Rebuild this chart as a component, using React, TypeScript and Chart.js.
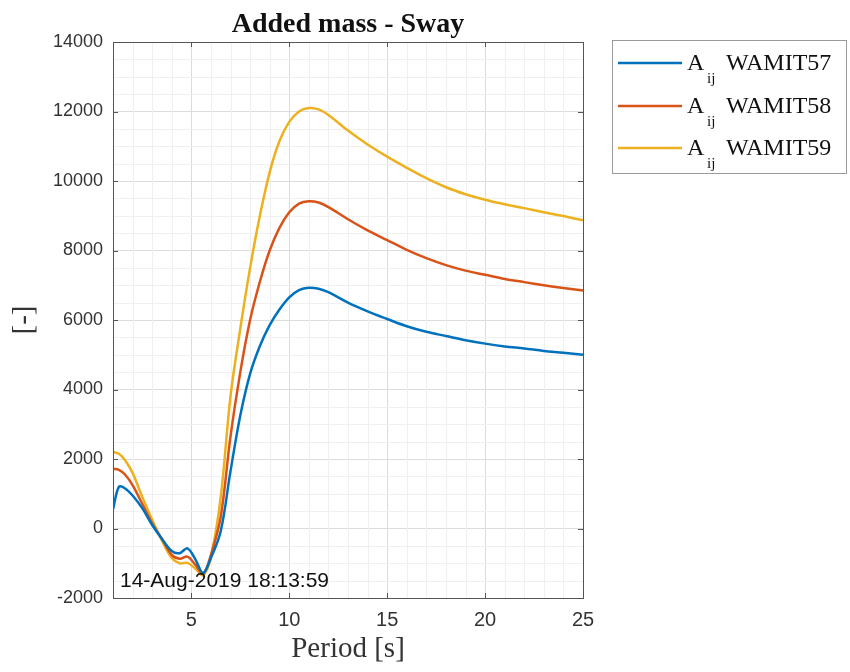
import React, { useEffect, useRef } from "react";
import { Chart, registerables } from "chart.js";

Chart.register(...registerables);

const TITLE = "Added mass - Sway";
const X_LABEL = "Period [s]";
const Y_LABEL = "[-]";
const STAMP = "14-Aug-2019 18:13:59";

const PERIODS = [1, 1.3, 1.6, 2, 2.5, 3, 3.5, 4, 4.4, 4.8, 5.2, 5.6, 6, 6.5, 7, 7.5, 8, 8.5, 9, 9.5, 10, 10.5, 11, 11.5, 12, 13, 14, 15, 16, 17, 18, 19, 20, 21, 22, 23, 24, 25];
const WAMIT57 = [550, 1200, 1160, 950, 580, 100, -300, -650, -710, -570, -880, -1280, -850, -80, 1650, 3250, 4450, 5250, 5850, 6300, 6650, 6860, 6930, 6900, 6800, 6500, 6250, 6030, 5820, 5660, 5540, 5420, 5320, 5240, 5180, 5110, 5060, 5000];
const WAMIT58 = [1720, 1690, 1560, 1250, 700, 150, -300, -760, -870, -810, -1040, -1300, -760, 330, 2650, 4500, 6000, 7100, 8000, 8650, 9100, 9350, 9420, 9380, 9250, 8900, 8580, 8300, 8020, 7780, 7580, 7420, 7300, 7180, 7090, 7000, 6920, 6850];
const WAMIT59 = [2200, 2150, 1980, 1600, 900, 250, -350, -850, -1000, -990, -1150, -1350, -820, 900, 3800, 5750, 7500, 9000, 10250, 11150, 11700, 12000, 12100, 12060, 11900, 11450, 11050, 10700, 10380, 10080, 9820, 9620, 9460, 9330, 9220, 9100, 8990, 8870];

const SERIES_NAMES = ["WAMIT57", "WAMIT58", "WAMIT59"];
const SERIES_COLORS = ["#0072BD", "#D95319", "#EDB120"];
const X_TICKS = [5, 10, 15, 20, 25];
const Y_TICKS = [-2000, 0, 2000, 4000, 6000, 8000, 10000, 12000, 14000];
const X_MINOR_STEP = 1;
const Y_MINOR_STEP = 500;

const decorPlugin = {
  id: "decor",
  beforeDatasetsDraw(chart: any) {
    const { ctx, chartArea: a, scales } = chart;
    const xs = scales.x;
    const ys = scales.y;
    ctx.save();
    ctx.strokeStyle = "#f0f0f0";
    ctx.lineWidth = 1;
    ctx.beginPath();
    for (let v = Math.ceil(xs.min); v <= xs.max; v += X_MINOR_STEP) {
      if (X_TICKS.includes(v)) continue;
      const px = Math.round(xs.getPixelForValue(v)) + 0.5;
      ctx.moveTo(px, a.top);
      ctx.lineTo(px, a.bottom);
    }
    for (let v = ys.min; v <= ys.max; v += Y_MINOR_STEP) {
      if (Y_TICKS.includes(v)) continue;
      const py = Math.round(ys.getPixelForValue(v)) + 0.5;
      ctx.moveTo(a.left, py);
      ctx.lineTo(a.right, py);
    }
    ctx.stroke();
    ctx.restore();
  },
  afterDatasetsDraw(chart: any) {
    const { ctx, chartArea: a, scales } = chart;
    const xs = scales.x;
    const ys = scales.y;
    ctx.save();
    ctx.strokeStyle = "#555555";
    ctx.lineWidth = 1;
    ctx.strokeRect(Math.round(a.left) + 0.5, Math.round(a.top) + 0.5, Math.round(a.right - a.left), Math.round(a.bottom - a.top));
    ctx.beginPath();
    const tl = 5;
    X_TICKS.forEach((v) => {
      const px = Math.round(xs.getPixelForValue(v)) + 0.5;
      ctx.moveTo(px, a.bottom);
      ctx.lineTo(px, a.bottom - tl);
      ctx.moveTo(px, a.top);
      ctx.lineTo(px, a.top + tl);
    });
    Y_TICKS.forEach((v) => {
      const py = Math.round(ys.getPixelForValue(v)) + 0.5;
      ctx.moveTo(a.left, py);
      ctx.lineTo(a.left + tl, py);
      ctx.moveTo(a.right, py);
      ctx.lineTo(a.right - tl, py);
    });
    ctx.stroke();
    ctx.fillStyle = "#111111";
    ctx.font = "21px 'Liberation Sans', Arial, sans-serif";
    ctx.textAlign = "left";
    ctx.textBaseline = "alphabetic";
    ctx.fillText(STAMP, a.left + 7, a.bottom - 11);
    ctx.restore();
  },
  afterDraw(chart: any) {
    const { ctx, chartArea: a } = chart;
    ctx.save();
    const cx = (a.left + a.right) / 2;
    ctx.fillStyle = "#111111";
    ctx.textAlign = "center";
    ctx.textBaseline = "alphabetic";
    ctx.font = "bold 28px 'Liberation Serif', 'Times New Roman', serif";
    ctx.fillText(TITLE, cx, 32);
    ctx.fillStyle = "#333333";
    ctx.font = "29px 'Liberation Serif', 'Times New Roman', serif";
    ctx.textBaseline = "middle";
    ctx.fillText(X_LABEL, cx, 649);
    ctx.save();
    ctx.translate(24, (a.top + a.bottom) / 2);
    ctx.rotate(-Math.PI / 2);
    ctx.fillText(Y_LABEL, 0, 0);
    ctx.restore();
    const lx = 612, ly = 40, lw = 234, lh = 133;
    ctx.fillStyle = "#ffffff";
    ctx.fillRect(lx, ly, lw, lh);
    ctx.strokeStyle = "#9a9a9a";
    ctx.lineWidth = 1;
    ctx.strokeRect(lx + 0.5, ly + 0.5, lw, lh);
    const rows = [63, 106, 148];
    chart.data.datasets.forEach((ds: any, i: number) => {
      const y = rows[i];
      ctx.strokeStyle = ds.borderColor;
      ctx.lineWidth = 2.5;
      ctx.beginPath();
      ctx.moveTo(618, y);
      ctx.lineTo(682, y);
      ctx.stroke();
      ctx.fillStyle = "#111111";
      ctx.textAlign = "left";
      ctx.textBaseline = "alphabetic";
      ctx.font = "24px 'Liberation Serif', 'Times New Roman', serif";
      ctx.fillText("A", 687, y + 7);
      ctx.font = "15px 'Liberation Serif', 'Times New Roman', serif";
      ctx.fillText("ij", 707, y + 20);
      ctx.font = "24px 'Liberation Serif', 'Times New Roman', serif";
      ctx.fillText(SERIES_NAMES[i], 726, y + 7);
    });
    ctx.restore();
  },
};

export default function App() {
  const ref = useRef<HTMLCanvasElement | null>(null);
  useEffect(() => {
    document.body.style.margin = "0";
    const seriesValues = [WAMIT57, WAMIT58, WAMIT59];
    const chart = new Chart(ref.current as HTMLCanvasElement, {
      type: "line",
      data: {
        datasets: seriesValues.map((vals, i) => ({
          label: SERIES_NAMES[i],
          data: PERIODS.map((p, j) => ({ x: p, y: vals[j] })),
          borderColor: SERIES_COLORS[i],
          backgroundColor: SERIES_COLORS[i],
          borderWidth: 2.5,
          pointRadius: 0,
          tension: 0.35,
          fill: false,
        })),
      },
      options: {
        responsive: false,
        animation: false,
        layout: { padding: { top: 42, right: 267, left: 0, bottom: 0 } },
        plugins: { legend: { display: false }, title: { display: false }, tooltip: { enabled: false } },
        scales: {
          x: {
            type: "linear",
            min: 1,
            max: 25,
            afterBuildTicks: (s: any) => {
              s.ticks = X_TICKS.map((v) => ({ value: v }));
            },
            afterFit: (s: any) => {
              s.height = 74;
            },
            grid: { color: "#dcdcdc", drawTicks: false },
            border: { display: false },
            ticks: {
              padding: 10,
              color: "#333333",
              font: { family: "'Liberation Sans', Arial, sans-serif", size: 20 },
              maxRotation: 0,
            },
          },
          y: {
            type: "linear",
            min: -2000,
            max: 14000,
            afterBuildTicks: (s: any) => {
              s.ticks = Y_TICKS.map((v) => ({ value: v }));
            },
            afterFit: (s: any) => {
              s.width = 113;
            },
            grid: { color: "#dcdcdc", drawTicks: false },
            border: { display: false },
            ticks: {
              padding: 10,
              color: "#333333",
              font: { family: "'Liberation Sans', Arial, sans-serif", size: 18 },
              callback: (v: any) => String(v),
            },
          },
        },
      },
      plugins: [decorPlugin],
    });
    return () => chart.destroy();
  }, []);
  return (
    <div style={{ width: 850, height: 672, background: "#ffffff" }}>
      <canvas ref={ref} width={850} height={672} style={{ display: "block" }} />
    </div>
  );
}
